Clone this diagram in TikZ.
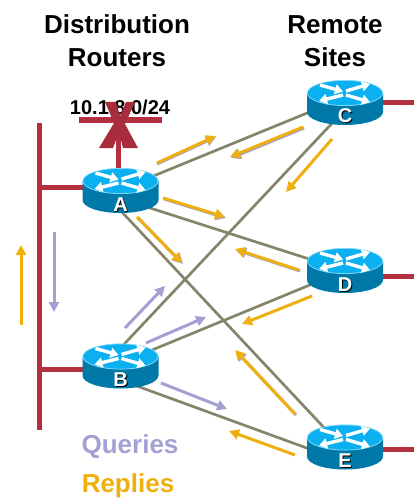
\documentclass[tikz,border=0pt]{standalone}
\usepackage{fontspec}
\setmainfont{Liberation Sans}
\usetikzlibrary{arrows.meta,backgrounds}
\definecolor{netred}{HTML}{B5303F}
\definecolor{crossred}{HTML}{A82C3C}
\definecolor{linkolive}{HTML}{85856B}
\definecolor{replyamber}{HTML}{EFB00F}
\definecolor{querypurple}{HTML}{A3A0D3}
\definecolor{routertop}{HTML}{0BB0F0}
\definecolor{routerside}{HTML}{0079A8}
\definecolor{routerrim}{HTML}{7FD8F8}
\newcommand{\routerlabel}[1]{\smash{\raisebox{-20.5pt}{\rlap{\kern1pt\raisebox{-1pt}{\color{black}#1}}#1}}}
\newcommand{\router}[4]{
    \begin{scope}[shift={(#2,#3)}]
        \fill[routerside] (-38,-9.5) -- (-38,9.5) arc[start angle=180,end angle=360,x radius=38pt,y radius=13pt] -- (38,-9.5) -- cycle;
        \draw[routerrim,fill=routertop,line width=0.8pt] (0,-9.5) ellipse[x radius=37.6pt,y radius=12.6pt];
        \draw[routerarrow] (-25,-17.5) -- (-2,-11);
        \draw[routerarrow] (1,-11.5) -- (25,-18.5);
        \draw[routerarrow] (-2,-7.5) -- (-26,-1.5);
        \draw[routerarrow] (1,-7.5) -- (25,-0.5);
    \end{scope}
    \node[routertext] (#1) at (#2,#3) {\routerlabel{#4}};
}
\begin{document}
\begin{tikzpicture}[x=1pt,y=-1pt]
    \tikzset{routerarrow/.style = {white,line width=3.4pt,-{Triangle[length=8pt,width=10pt]}}}
    \tikzset{routertext/.style = {inner sep=0pt,minimum width=76pt,minimum height=45pt,text=white,font=\bfseries\fontsize{20}{20}\selectfont}}
    \tikzset{link/.style = {linkolive,line width=2.7pt}}
    \tikzset{lan/.style = {netred,line width=5pt}}
    \tikzset{reply/.style = {replyamber,line width=3pt,-{Triangle[length=10pt,width=10pt]}}}
    \tikzset{query/.style = {querypurple,line width=3pt,-{Triangle[length=10pt,width=10pt]}}}
    \tikzset{heading/.style = {align=center,inner sep=0pt,font=\bfseries\fontsize{26}{33}\selectfont}}
    \useasboundingbox (0,0) rectangle (414,500);

    \node[heading] (dist) at (117,41) {Distribution\\Routers};
    \node[heading] (remote) at (335,41) {Remote\\Sites};
    \node[inner sep=0pt,font=\bfseries\fontsize{20}{20}\selectfont] (subnet) at (120,107) {10.1.8.0/24};
    \node[heading,text=querypurple,anchor=base] (queries) at (130,453) {Queries};
    \node[heading,text=replyamber,anchor=base] (replies) at (128,492) {Replies};

    \router{a}{120.5}{190.5}{A}
    \router{b}{120.5}{366}{B}
    \router{c}{345}{102.5}{C}
    \router{d}{345}{270.5}{D}
    \router{e}{345}{447}{E}

    \coordinate (bustop) at (39,123);
    \coordinate (busbot) at (39,430);
    \coordinate (busa) at (39,187);
    \coordinate (busb) at (39,369);
    \coordinate (barleft) at (79,120);
    \coordinate (barright) at (162,120);
    \coordinate (barmid) at (118,120);
    \coordinate (endc) at (414,103);
    \coordinate (endd) at (414,276);
    \coordinate (ende) at (414,449);

    \begin{scope}[on background layer]
        \draw[link] ([yshift=1pt]a.center) to ([yshift=5pt]c.center);
        \draw[link] ([yshift=-8pt]a.center) to (d.center);
        \draw[link] ([yshift=-20pt]a.center) to ([yshift=-3pt]e.center);
        \draw[link] ([yshift=18pt]b.center) to ([yshift=-7pt]c.center);
        \draw[link] ([yshift=3pt]b.center) to (d.center);
        \draw[link] ([yshift=-14pt]b.center) to ([yshift=-15pt]e.center);
        \draw[lan] (bustop) to (busbot);
        \draw[lan] (busa) to (busa -| a.center);
        \draw[lan] (busb) to (busb -| b.center);
        \draw[lan] (barmid) to (barmid |- a.center);
        \draw[lan] (endc) to (endc -| c.center);
        \draw[lan] (endd) to (endd -| d.center);
        \draw[lan] (ende) to (ende -| e.center);
    \end{scope}
    \draw[netred,line width=5.5pt] (barleft) to (barright);

    % big cross over the lost subnet
    \fill[crossred] (105,102) -- (116,102) -- (120,116) -- (126,102) -- (135,102) -- (125,124) -- (138,148) -- (123,148) -- (119,132) -- (113,148) -- (99,148) -- (114,123) -- cycle;

    \foreach \xa/\ya/\xb/\yb in {157/164/216/137,304/128/231/158,164/199/226/218,300/271/236/250,138/218/183/264,296/415/236/351,125/328/165/286,146/343/206/317,161/383/227/409,54/232/54/312}
        \draw[query] (\xa,\ya) -- (\xb,\yb);
    \foreach \xa/\ya/\xb/\yb in {157/163/216/136,303/127/230/157,332/139/286/192,163/198/225/217,299/270/235/249,312/296/242/324,137/217/182/263,295/414/235/350,295/455/229/431,21/325/21/245}
        \draw[reply] (\xa,\ya) -- (\xb,\yb);
\end{tikzpicture}
\end{document}
